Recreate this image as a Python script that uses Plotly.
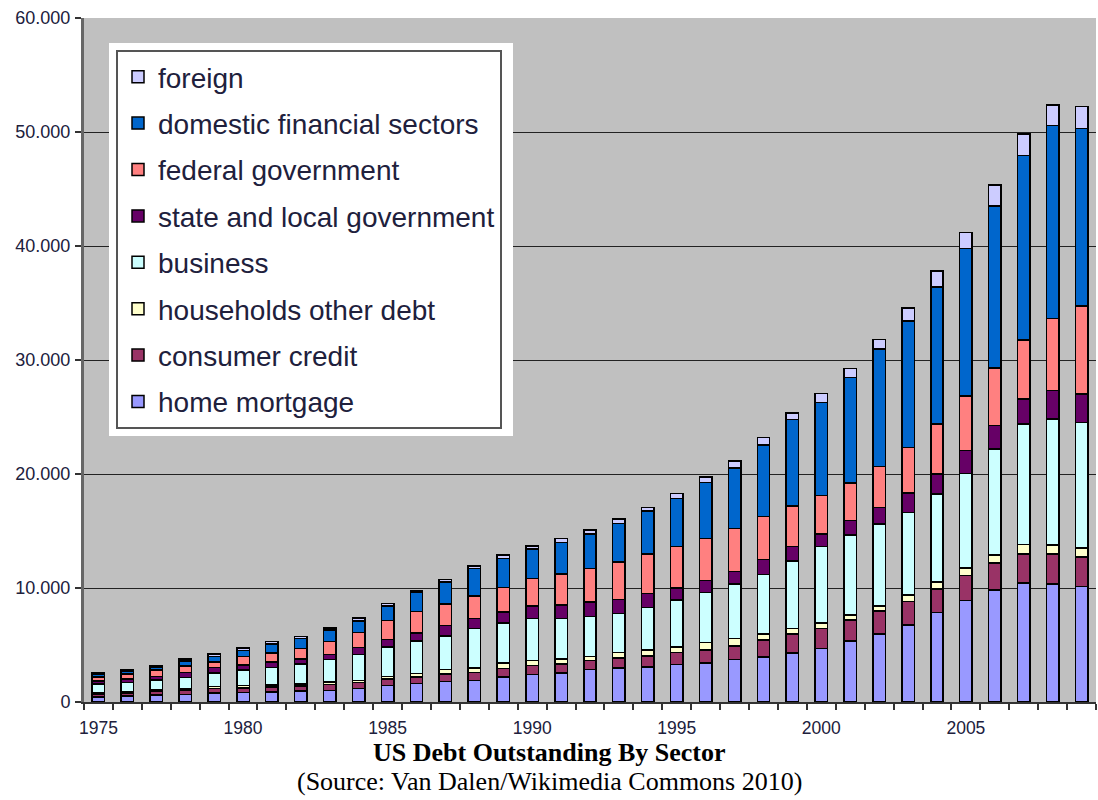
import plotly.graph_objects as go

# US debt outstanding by sector, billions of dollars
years = list(range(1975, 2010))

home_mortgage = [460, 520, 600, 680, 780, 820, 880, 970, 1030, 1180,
                 1460, 1610, 1815, 1900, 2200, 2400, 2550, 2840, 2990, 3070,
                 3280, 3430, 3720, 3960, 4310, 4690, 5330, 5950, 6770, 7830,
                 8910, 9840, 10420, 10370, 10130]
consumer_credit = [240, 270, 330, 370, 400, 420, 440, 450, 500, 540,
                   560, 600, 650, 700, 760, 800, 800, 800, 860, 960,
                   1080, 1150, 1200, 1460, 1660, 1760, 1850, 2050, 2050, 2100,
                   2190, 2340, 2570, 2620, 2570]
households_other = [120, 120, 140, 140, 160, 190, 180, 160, 220, 180,
                    230, 280, 375, 390, 470, 460, 430, 370, 480, 510,
                    470, 635, 650, 530, 480, 490, 440, 440, 580, 580,
                    640, 730, 820, 790, 790]
business = [740, 810, 850, 960, 1220, 1360, 1530, 1740, 1980, 2270,
            2580, 2870, 2960, 3450, 3510, 3660, 3540, 3510, 3430, 3750,
            4100, 4395, 4770, 5240, 5910, 6680, 7030, 7180, 7240, 7740,
            8320, 9280, 10570, 11040, 11040]
state_local = [290, 290, 310, 450, 460, 440, 500, 470, 440, 620,
               640, 700, 930, 880, 970, 1080, 1170, 1260, 1230, 1230,
               1080, 1030, 1090, 1320, 1260, 1120, 1260, 1430, 1700, 1750,
               1990, 2050, 2220, 2500, 2500]
federal = [350, 450, 570, 550, 510, 740, 790, 910, 1120, 1300,
           1700, 1900, 1850, 1960, 2130, 2430, 2720, 2930, 3310, 3450,
           3610, 3720, 3810, 3750, 3580, 3370, 3280, 3610, 4000, 4380,
           4800, 5060, 5150, 6320, 7720]
domestic_financial = [270, 260, 280, 430, 450, 530, 770, 860, 1030, 1020,
                      1260, 1640, 1960, 2430, 2550, 2580, 2760, 3020, 3360, 3780,
                      4240, 4890, 5270, 6300, 7560, 8170, 9260, 10300, 11100, 12040,
                      12950, 14200, 16180, 16940, 15540]
foreign = [120, 130, 120, 180, 250, 230, 200, 170, 180, 240,
           210, 150, 210, 210, 290, 290, 380, 350, 390, 320,
           440, 470, 640, 650, 590, 760, 790, 820, 1110, 1390,
           1370, 1840, 1900, 1810, 1950]

# stacking order, bottom to top
series = [
    ("home mortgage", home_mortgage, "#9999FF"),
    ("consumer credit", consumer_credit, "#993366"),
    ("households other debt", households_other, "#FFFFCC"),
    ("business", business, "#CCFFFF"),
    ("state and local government", state_local, "#660066"),
    ("federal government", federal, "#FF8080"),
    ("domestic financial sectors", domestic_financial, "#0066CC"),
    ("foreign", foreign, "#CCCCFF"),
]

W, H = 1098, 800
ML, MR, MT, MB = 84, 2, 18, 98
PW, PH = W - ML - MR, H - MT - MB


def px_x(x):
    return (x - ML) / PW


def px_y(y):
    return (H - MB - y) / PH


fig = go.Figure()
for i, (name, vals, color) in enumerate(series):
    fig.add_trace(go.Bar(
        x=years, y=vals, name=name, legendgroup=name,
        legendrank=len(series) - i,  # top segment listed first
        marker=dict(color=color, line=dict(color="#000000", width=1.5)),
    ))

text_color = "#20203c"

fig.update_layout(
    width=W, height=H,
    barmode="stack", bargap=0.57,
    paper_bgcolor="#FFFFFF", plot_bgcolor="#C0C0C0",
    margin=dict(l=ML, r=MR, t=MT, b=MB),
    separators=",.",
    showlegend=True,
    legend=dict(
        x=px_x(116), y=px_y(50), xanchor="left", yanchor="top",
        bgcolor="#FFFFFF", bordercolor="#555555", borderwidth=2,
        font=dict(family="Liberation Sans, Arial, sans-serif", size=28, color=text_color),
        traceorder="grouped", tracegroupgap=7,
    ),
    xaxis=dict(
        range=[1974.5, 2009.5],
        tickmode="array", tickvals=[1975, 1980, 1985, 1990, 1995, 2000, 2005],
        ticks="", showgrid=False, zeroline=False,
        showline=True, linecolor="#333333", linewidth=2,
        tickfont=dict(family="Liberation Sans, Arial, sans-serif", size=17.5, color=text_color),
        ticklabelstandoff=9,
        minor=dict(tick0=1974.5, dtick=1, ticks="outside", ticklen=6,
                   tickcolor="#333333", tickwidth=1.5, showgrid=False),
    ),
    yaxis=dict(
        range=[0, 60000], dtick=10000, tickformat=",d",
        showgrid=True, gridcolor="#222222", gridwidth=1,
        zeroline=False,
        showline=True, linecolor="#666666", linewidth=3,
        ticks="outside", ticklen=6, tickcolor="#333333", tickwidth=1.5,
        tickfont=dict(family="Liberation Sans, Arial, sans-serif", size=18, color=text_color),
        ticklabelstandoff=1,
    ),
    shapes=[dict(
        type="rect", xref="paper", yref="paper", layer="above",
        x0=px_x(109), x1=px_x(513), y0=px_y(436), y1=px_y(43),
        fillcolor="#FFFFFF", line=dict(width=0),
    )],
    annotations=[
        dict(text="<b>US Debt Outstanding By Sector</b>", xref="paper", yref="paper",
             x=px_x(549), y=px_y(753), xanchor="center", yanchor="middle",
             showarrow=False,
             font=dict(family="Liberation Serif, Times New Roman, serif", size=26, color="#000000")),
        dict(text="(Source: Van Dalen/Wikimedia Commons 2010)", xref="paper", yref="paper",
             x=px_x(549), y=px_y(781), xanchor="center", yanchor="middle",
             showarrow=False,
             font=dict(family="Liberation Serif, Times New Roman, serif", size=26, color="#000000")),
    ],
)

fig.write_html("out.html")
